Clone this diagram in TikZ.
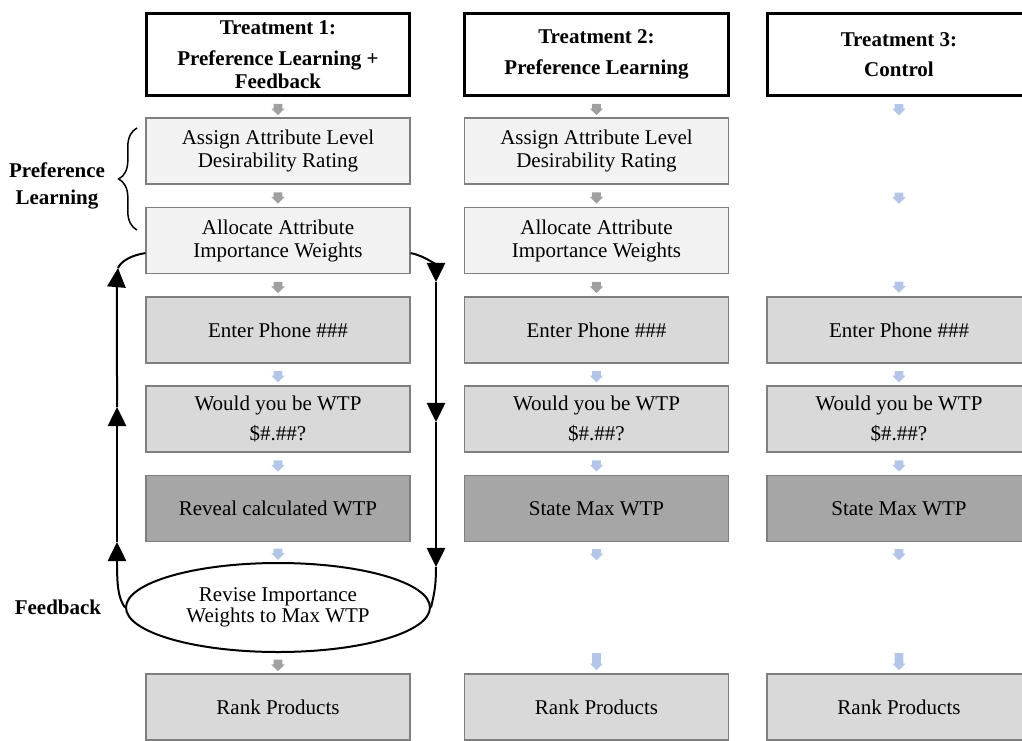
\documentclass[tikz,border=0pt]{standalone}
\usepackage{fontspec}
\setmainfont{Liberation Serif}
\usetikzlibrary{shapes.geometric,shapes.arrows,arrows.meta,decorations.pathreplacing}

\definecolor{boxline}{RGB}{127,127,127}
\definecolor{lightfill}{RGB}{242,242,242}
\definecolor{midfill}{RGB}{217,217,217}
\definecolor{darkfill}{RGB}{166,166,166}
\definecolor{grayarr}{RGB}{160,160,160}
\definecolor{bluearr}{RGB}{180,198,231}

\newcommand{\stepfont}{\fontsize{12.6}{13.8}\selectfont}

\tikzset{
  hdr/.style={draw, line width=1.8pt, minimum width=158pt, minimum height=49.5pt,
    align=center, inner sep=0pt, font=\bfseries\stepfont},
  stepbox/.style={draw=boxline, line width=0.7pt, minimum width=158.4pt,
    minimum height=39.6pt, align=center, inner sep=0pt, font=\stepfont},
  light/.style={stepbox, fill=lightfill},
  mid/.style={stepbox, fill=midfill},
  dark/.style={stepbox, fill=darkfill},
  revise/.style={ellipse, draw, line width=1.2pt, fill=white, minimum width=182.4pt,
    minimum height=53.4pt, align=center, inner sep=0pt, font=\fontsize{12.6}{12.8}\selectfont},
  darr/.style={single arrow, rotate=-90, draw=none, inner xsep=0.5pt, inner ysep=2.4pt,
    single arrow head extend=1.4pt, minimum height=6.8pt},
  garr/.style={darr, fill=grayarr},
  barr/.style={darr, fill=bluearr},
  larr/.style={barr, minimum height=10.2pt},
  fbline/.style={line width=1.2pt, -{Triangle[length=11.5pt,width=11pt]}},
  sidelabel/.style={align=center, font=\bfseries\stepfont}
}

\begin{document}
\begin{tikzpicture}[x=0.6pt, y=-0.6pt]
  \useasboundingbox (0,0) rectangle (1022,740);

  % headers
  \node[hdr] (hd1) at (278,54.5) {Treatment 1:\\[4.5pt]Preference Learning +\\Feedback};
  \node[hdr] (hd2) at (596.5,54.5) {Treatment 2:\\[4.5pt]Preference Learning};
  \node[hdr] (hd3) at (899,54.5) {Treatment 3:\\[4.5pt]Control};

  % treatment 1
  \node[light] (as1) at (278,151) {Assign Attribute Level\\Desirability Rating};
  \node[light] (al1) at (278,240.5) {Allocate Attribute\\Importance Weights};
  \node[mid] (en1) at (278,330) {Enter Phone \#\#\#};
  \node[mid] (wt1) at (278,419) {Would you be WTP\\[4pt]\$\#.\#\#?};
  \node[dark] (rv1) at (278,508.5) {Reveal calculated WTP};
  \node[revise] (fb1) at (278,607.5) {Revise Importance\\Weights to Max WTP};
  \node[mid] (rk1) at (278,707) {Rank Products};

  % treatment 2
  \node[light] (as2) at (596.5,151) {Assign Attribute Level\\Desirability Rating};
  \node[light] (al2) at (596.5,240.5) {Allocate Attribute\\Importance Weights};
  \node[mid] (en2) at (596.5,330) {Enter Phone \#\#\#};
  \node[mid] (wt2) at (596.5,419) {Would you be WTP\\[4pt]\$\#.\#\#?};
  \node[dark] (sm2) at (596.5,508.5) {State Max WTP};
  \node[mid] (rk2) at (596.5,707) {Rank Products};

  % treatment 3
  \node[mid] (en3) at (899,330) {Enter Phone \#\#\#};
  \node[mid] (wt3) at (899,419) {Would you be WTP\\[4pt]\$\#.\#\#?};
  \node[dark] (sm3) at (899,508.5) {State Max WTP};
  \node[mid] (rk3) at (899,707) {Rank Products};

  % small arrows
  \path (hd1.south) -- node[garr] (ar11) {} (as1.north);
  \path (as1.south) -- node[garr] (ar12) {} (al1.north);
  \path (al1.south) -- node[garr] (ar13) {} (en1.north);
  \path (en1.south) -- node[barr] (ar14) {} (wt1.north);
  \path (wt1.south) -- node[barr] (ar15) {} (rv1.north);
  \path (rv1.south) -- node[barr] (ar16) {} (fb1.north);
  \path (fb1.south) -- node[garr] (ar17) {} (rk1.north);

  \path (hd2.south) -- node[garr] (ar21) {} (as2.north);
  \path (as2.south) -- node[garr] (ar22) {} (al2.north);
  \path (al2.south) -- node[garr] (ar23) {} (en2.north);
  \path (en2.south) -- node[barr] (ar24) {} (wt2.north);
  \path (wt2.south) -- node[barr] (ar25) {} (sm2.north);
  \node[barr] (ar26) at (596.5,552.5) {};
  \node[larr] (ar27) at (596.5,659.5) {};

  \node[barr] (ar31) at (899,107.5) {};
  \node[barr] (ar32) at (899,196) {};
  \node[barr] (ar33) at (899,285) {};
  \path (en3.south) -- node[barr] (ar34) {} (wt3.north);
  \path (wt3.south) -- node[barr] (ar35) {} (sm3.north);
  \node[barr] (ar36) at (899,552.5) {};
  \node[larr] (ar37) at (899,659.5) {};

  % brace and side labels
  \coordinate (brlo) at (137,230);
  \coordinate (brhi) at (137,128);
  \draw[decorate, decoration={brace, amplitude=11pt}, line width=0.9pt] (brlo) -- (brhi);
  \node[sidelabel] (pl) at (57,186) {Preference\\[2.7pt]Learning};
  \node[sidelabel] (fbl) at (58,607) {Feedback};

  % feedback loop
  \coordinate (l1) at (117,542);
  \coordinate (l2) at (117,407);
  \coordinate (l3) at (118,268);
  \coordinate (r1) at (436,282);
  \coordinate (r2) at (436,422);
  \coordinate (r3) at (436,567);
  \draw[fbline] (fb1.west) .. controls (118,598) and (117,585) .. (l1);
  \draw[fbline] (l1) -- (l2);
  \draw[fbline] (l2) .. controls (117,300) and (117,280) .. (l3);
  \draw[line width=1.2pt] (l3) .. controls (121,261) and (132,255) .. ([yshift=12.6pt]al1.south west);
  \draw[fbline] ([yshift=12.6pt]al1.south east) .. controls (426,256) and (436,266) .. (r1);
  \draw[fbline] (r1) -- (r2);
  \draw[fbline] (r2) -- (r3);
  \draw[line width=1.2pt] (r3) .. controls (436,590) and (433,598) .. (fb1.east);
\end{tikzpicture}
\end{document}
